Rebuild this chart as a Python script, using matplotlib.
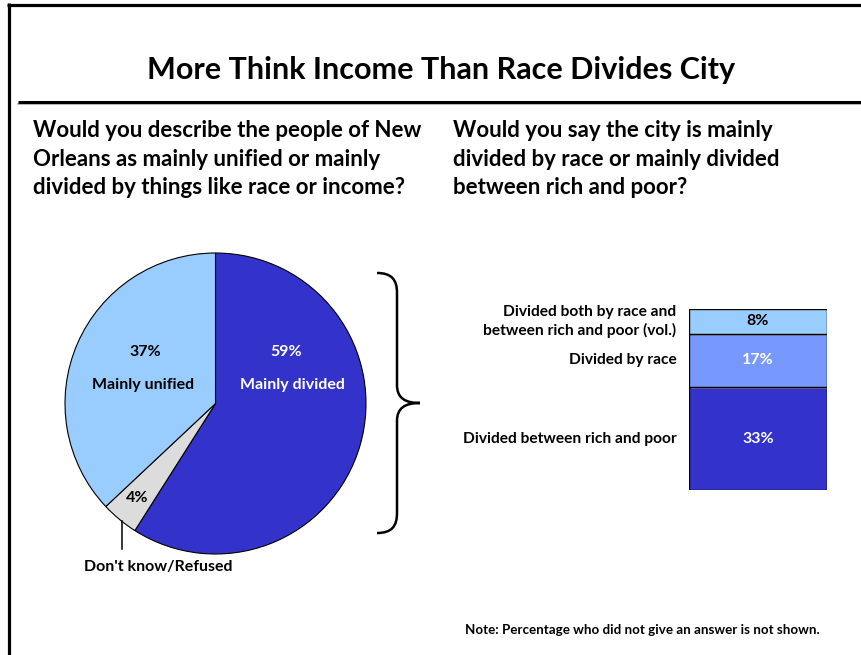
"""New Orleans survey: unified vs divided, and what divides the city."""

import matplotlib.pyplot as plt
from matplotlib import patheffects
from matplotlib.path import Path
from matplotlib.patches import PathPatch

W, H = 861, 655

# left panel: pie
pie_labels = ["Mainly divided", "Don't know/Refused", "Mainly unified"]
pie_values = [59, 4, 37]
pie_colors = ["#3333CC", "#DCDCDC", "#99CCFF"]

# right panel: stacked bar, bottom to top
bar_labels = [
    "Divided between rich and poor",
    "Divided by race",
    "Divided both by race and\nbetween rich and poor (vol.)",
]
bar_values = [33, 17, 8]
bar_colors = ["#3333CC", "#7799FF", "#99CCFF"]
bar_text_colors = ["white", "white", "black"]

title = "More Think Income Than Race Divides City"
left_q = ("Would you describe the people of New\n"
          "Orleans as mainly unified or mainly\n"
          "divided by things like race or income?")
right_q = ("Would you say the city is mainly\n"
           "divided by race or mainly divided\n"
           "between rich and poor?")
note = "Note: Percentage who did not give an answer is not shown."

plt.rcParams["font.family"] = ["Lato", "DejaVu Sans"]
plt.rcParams["font.weight"] = "bold"

fig = plt.figure(figsize=(W / 100, H / 100), dpi=100)


def fx(x):
    return x / W


def fy(y):
    return 1 - y / H


def box(x0, y0, x1, y1):
    return [fx(x0), fy(y1), (x1 - x0) / W, (y1 - y0) / H]


# overlay in pixel units for the frame, rules, brace and leader
deco = fig.add_axes([0, 0, 1, 1], zorder=5)
deco.set_xlim(0, W)
deco.set_ylim(H, 0)
deco.axis("off")
deco.patch.set_alpha(0)

deco.plot([8.5, 8.5], [3, H], color="black", lw=2.3, solid_capstyle="butt")
deco.plot([7, W], [4.5, 4.5], color="black", lw=2.3, solid_capstyle="butt")
deco.plot([18, W], [104, 104], color="#B0B0B0", lw=1.2)
deco.plot([18, W], [101.5, 101.5], color="black", lw=2.2, solid_capstyle="butt")

brace = Path(
    [(377, 273), (392, 273), (397, 280), (397, 293),
     (397, 385),
     (397, 398), (405, 403), (420, 403),
     (405, 403), (397, 408), (397, 421),
     (397, 513),
     (397, 526), (392, 533), (377, 533)],
    [Path.MOVETO, Path.CURVE4, Path.CURVE4, Path.CURVE4,
     Path.LINETO,
     Path.CURVE4, Path.CURVE4, Path.CURVE4,
     Path.CURVE4, Path.CURVE4, Path.CURVE4,
     Path.LINETO,
     Path.CURVE4, Path.CURVE4, Path.CURVE4],
)
deco.add_patch(PathPatch(brace, facecolor="none", edgecolor="black", lw=1.8))
deco.plot([122, 122], [521, 549], color="black", lw=1.1)

fig.text(fx(441), fy(70), title, ha="center", va="center", fontsize=22)
fig.text(fx(33), fy(120), left_q, ha="left", va="top", fontsize=16,
         linespacing=1.45)
fig.text(fx(453), fy(120), right_q, ha="left", va="top", fontsize=16,
         linespacing=1.45)
fig.text(fx(465), fy(630), note, ha="left", va="center", fontsize=9.6)

# pie
ax_pie = fig.add_axes(box(65, 253, 366, 554))
ax_pie.pie(pie_values, colors=pie_colors, startangle=90, counterclock=False,
           radius=1, wedgeprops=dict(edgecolor="black", linewidth=0.8))
ax_pie.set_xlim(-1, 1)
ax_pie.set_ylim(-1, 1)
ax_pie.set_aspect("equal")

fig.text(fx(286), fy(352), f"{pie_values[0]}%", ha="center", va="center",
         fontsize=11.5, color="white")
fig.text(fx(292), fy(385), pie_labels[0], ha="center", va="center",
         fontsize=11.5, color="white")
fig.text(fx(145), fy(352), f"{pie_values[2]}%", ha="center", va="center",
         fontsize=11.5)
fig.text(fx(143), fy(385), pie_labels[2], ha="center", va="center",
         fontsize=11.5)
fig.text(fx(137), fy(498), f"{pie_values[1]}%", ha="center", va="center",
         fontsize=11.5)
fig.text(fx(158), fy(567), pie_labels[1], ha="center", va="center",
         fontsize=11.5)

# stacked bar
ax_bar = fig.add_axes(box(689, 309, 827, 490))
bottom = 0
shadow = [patheffects.SimplePatchShadow(offset=(1.5, -1.5),
                                        shadow_rgbFace="#A0A0A0", alpha=0.6),
          patheffects.Normal()]
for label, value, color, tcolor in zip(bar_labels, bar_values, bar_colors,
                                       bar_text_colors):
    rect = ax_bar.bar(0, value, bottom=bottom, width=1, color=color,
                      edgecolor="black", linewidth=1)[0]
    rect.set_path_effects(shadow)
    mid = bottom + value / 2
    ax_bar.text(0, mid, f"{value}%", ha="center", va="center", fontsize=11.5,
                color=tcolor)
    ax_bar.annotate(label, xy=(-0.5, mid), xytext=(-9, 0),
                    textcoords="offset points", ha="right", va="center",
                    fontsize=11.2, linespacing=1.4)
    bottom += value
ax_bar.set_xlim(-0.5, 0.5)
ax_bar.set_ylim(0, sum(bar_values))
ax_bar.axis("off")

fig.savefig("out.png", dpi=100)
